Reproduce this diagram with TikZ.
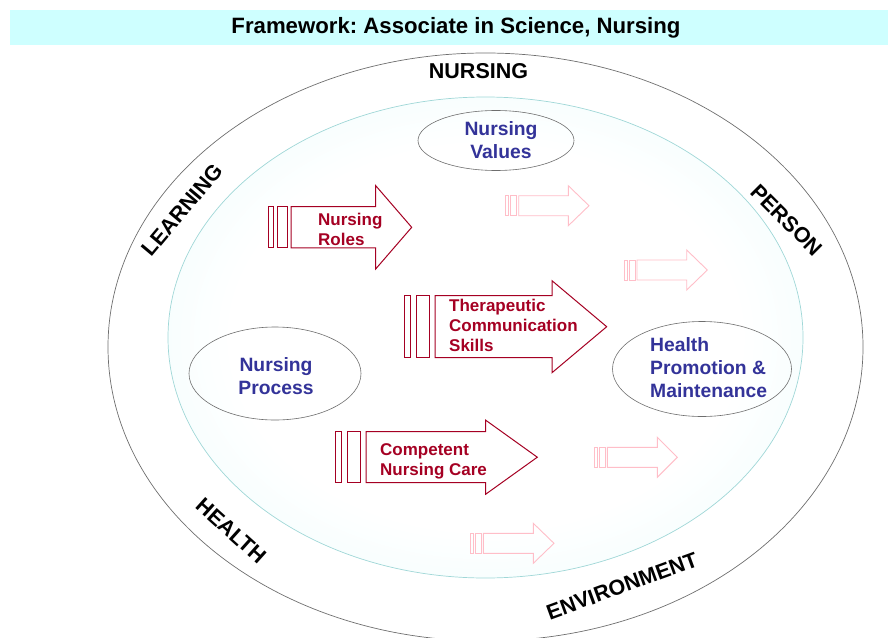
\documentclass[tikz,border=0pt]{standalone}
\usepackage{fontspec}
\setmainfont{Liberation Sans}
\usetikzlibrary{shapes.geometric}
\definecolor{titlebg}{RGB}{206,255,255}
\definecolor{crim}{RGB}{165,0,35}
\definecolor{pinkf}{RGB}{255,190,200}
\definecolor{navy}{RGB}{51,51,153}
\definecolor{ringgray}{RGB}{110,110,110}
\definecolor{innerc}{RGB}{160,215,215}
\definecolor{paleC}{RGB}{214,250,250}
\pgfdeclareradialshading{innerglow}{\pgfpoint{0bp}{0bp}}{color(0bp)=(white); color(20bp)=(white); color(50bp)=(paleC)}
\newcommand\fwarrow[9]{% #1 style, #2 x0, #3 u, #4 body, #5 head, #6 tip, #7 yc, #8 hb, #9 hh
  \draw[#1] ({#2},{#7-#8}) rectangle ({#2+#3},{#7+#8});
  \draw[#1] ({#2+1.8*#3},{#7-#8}) rectangle ({#2+3.8*#3},{#7+#8});
  \draw[#1] ({#4},{#7-#8}) -- ({#5},{#7-#8}) -- ({#5},{#7-#9}) -- ({#6},{#7}) -- ({#5},{#7+#9}) -- ({#5},{#7+#8}) -- ({#4},{#7+#8}) -- cycle;}
\begin{document}
\frenchspacing
\begin{tikzpicture}[x=1pt,y=-1pt,
  ring/.style={draw=ringgray,line width=0.7pt},
  smallell/.style={ellipse,draw=ringgray,line width=0.6pt,inner sep=0pt},
  ringlabel/.style={font=\fontsize{21.5}{26}\selectfont\bfseries,text=black,inner sep=0pt},
  bluetext/.style={font=\fontsize{19.3}{23}\selectfont\bfseries,text=navy,inner sep=0pt},
  redtext/.style={font=\fontsize{17}{20}\selectfont\bfseries,text=crim,inner sep=0pt,align=left,anchor=west},
  redarrow/.style={draw=crim,line width=1pt,line join=miter},
  fadedarrow/.style={draw=pinkf,line width=0.9pt,line join=miter}]
\useasboundingbox (0,0) rectangle (888,637);
% title band
\fill[titlebg] (10,10) rectangle (888,45);
\node[font=\fontsize{22.2}{26}\selectfont\bfseries,inner sep=0pt] (title) at (456,28) {Framework: Associate in Science, Nursing};
% rings
\draw[ring] (485.5,347) ellipse [x radius=377.5, y radius=294];
\shadedraw[shading=innerglow,draw=innerc,line width=0.7pt] (485.5,337.5) ellipse [x radius=317.5, y radius=240.5];
% ring labels
\node[ringlabel] (nursing) at (478.5,71) {NURSING};
\node[ringlabel,rotate=50] (learning) at (182,210) {LEARNING};
\node[ringlabel,rotate=-45] (person) at (787,220) {PERSON};
\node[ringlabel,rotate=-42] (health) at (231,531) {HEALTH};
\node[ringlabel,rotate=20] (environment) at (622,586) {ENVIRONMENT};
% small ellipses
\node[smallell,minimum width=156pt,minimum height=60pt] (valuesE) at (496,140.5) {};
\node[smallell,minimum width=172pt,minimum height=93pt] (processE) at (275,373.5) {};
\node[smallell,minimum width=179pt,minimum height=95pt] (healthE) at (702,369) {};
\node[bluetext,align=center] (valuesT) at (501,140) {Nursing\\Values};
\node[bluetext,align=center] (processT) at (276,376) {Nursing\\Process};
\node[bluetext,align=left,anchor=west] (healthT) at (650,367.5) {Health\\Promotion \&\\Maintenance};
% red arrows
\fwarrow{redarrow}{268.3}{5}{291}{375.7}{411.7}{227.3}{20.65}{41.65}
\fwarrow{redarrow}{404}{6.7}{435}{552}{606.7}{326.7}{31}{46}
\fwarrow{redarrow}{335}{6.7}{366}{485.7}{537.3}{457.2}{25.5}{37}
\node[redtext] (rolesT) at (318,229.5) {Nursing\\Roles};
\node[redtext] (therT) at (449,325.5) {Therapeutic\\Communication\\Skills};
\node[redtext] (compT) at (380,461) {Competent\\Nursing Care};
% faded arrows
\fwarrow{fadedarrow}{505.3}{3}{518.7}{568.3}{589}{205.7}{10}{20}
\fwarrow{fadedarrow}{624.3}{3}{637}{686.7}{707.3}{270}{10}{20}
\fwarrow{fadedarrow}{594.3}{3}{607.3}{657.3}{677.3}{457.3}{10}{20}
\fwarrow{fadedarrow}{470}{3}{483.3}{533.3}{554}{543.3}{10}{20}
\end{tikzpicture}
\end{document}
